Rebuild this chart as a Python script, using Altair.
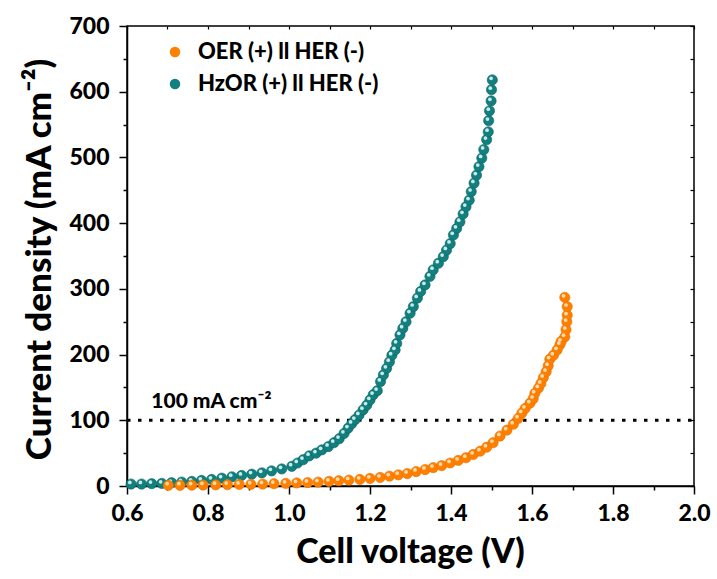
import altair as alt
import pandas as pd

# ---- data ----
teal_name = "HzOR (+) ll HER (-)"
orange_name = "OER (+) ll HER (-)"

teal_v = [0.610, 0.636, 0.661, 0.686, 0.710, 0.735, 0.760, 0.784, 0.809, 0.834,
          0.859, 0.883, 0.908, 0.933, 0.957, 0.982, 1.007, 1.021, 1.035, 1.050,
          1.067, 1.081, 1.097, 1.111, 1.124, 1.136, 1.146, 1.155, 1.163, 1.173,
          1.183, 1.192, 1.200, 1.208, 1.218, 1.226, 1.233, 1.241, 1.248, 1.254,
          1.262, 1.266, 1.274, 1.281, 1.289, 1.299, 1.307, 1.317, 1.325, 1.336,
          1.348, 1.356, 1.369, 1.381, 1.389, 1.398, 1.406, 1.414, 1.422, 1.430,
          1.437, 1.445, 1.450, 1.457, 1.463, 1.469, 1.476, 1.481, 1.488, 1.492,
          1.493, 1.495, 1.499, 1.500, 1.502]
teal_j = [3, 3, 3.5, 4, 5, 6, 7, 8.5, 10, 12,
          14, 16, 18, 20, 23, 26, 30, 35, 40, 46,
          50, 55, 60, 66, 72, 80, 88, 95, 101, 108,
          116, 123, 131, 139, 145, 159, 169, 179, 189, 199,
          207, 217, 230, 240, 250, 263, 273, 286, 296, 306,
          319, 329, 339, 349, 359, 369, 382, 392, 402, 414,
          425, 435, 448, 461, 473, 486, 499, 512, 527, 539,
          556, 571, 586, 603, 618]

orange_v = [0.702, 0.731, 0.760, 0.788, 0.819, 0.848, 0.877, 0.906, 0.935, 0.963,
            0.992, 1.019, 1.046, 1.072, 1.099, 1.123, 1.148, 1.175, 1.200, 1.225,
            1.248, 1.270, 1.292, 1.314, 1.336, 1.356, 1.377, 1.398, 1.418, 1.437,
            1.455, 1.472, 1.488, 1.504, 1.521, 1.538, 1.554, 1.566, 1.575, 1.583,
            1.595, 1.603, 1.607, 1.616, 1.622, 1.628, 1.635, 1.640, 1.644, 1.653,
            1.662, 1.669, 1.672, 1.681, 1.684, 1.686, 1.687, 1.687, 1.681]
orange_j = [1, 1, 1.2, 1.5, 1.8, 2, 2.3, 2.6, 3, 3.5,
            4, 4.6, 5.3, 6, 7, 8, 9, 10, 11.5, 13,
            15, 17, 19, 22, 25, 28, 31, 35, 39, 43,
            48, 53, 59, 66, 76, 85, 94, 103, 111, 118,
            126, 133, 141, 149, 156, 165, 174, 183, 193, 199,
            207, 215, 220, 227, 238, 250, 260, 273, 287]

x_ticks = [0.6, 0.7, 0.8, 0.9, 1.0, 1.1, 1.2, 1.3, 1.4, 1.5, 1.6, 1.7, 1.8, 1.9, 2.0]
y_ticks = [0, 50, 100, 150, 200, 250, 300, 350, 400, 450, 500, 550, 600, 650, 700]

ref_level = [100]
ref_label = ["100 mA cm\u207b\u00b2"]

# ---- tables ----
df = pd.DataFrame({
    "V": teal_v + orange_v,
    "J": teal_j + orange_j,
    "series": [teal_name] * len(teal_v) + [orange_name] * len(orange_v),
})
rule_df = pd.DataFrame({"V": [0.6], "V2": [2.0], "J": ref_level})
text_df = pd.DataFrame({"V": [0.66], "J": [118], "label": ref_label})

FONT = "Lato"
WT = 900
W, H = 567, 460

xscale = alt.Scale(domain=[0.6, 2.0], nice=False, zero=False)
yscale = alt.Scale(domain=[0, 700], nice=False, zero=False)

color_scale = alt.Scale(domain=[orange_name, teal_name], range=["#ff8000", "#11807e"])

x_axis = alt.Axis(
    values=x_ticks, format=".1f",
    labelExpr="round(datum.value*10) % 2 === 0 ? datum.label : ''",
    tickSize={"condition": {"test": "round(datum.value*10) % 2 === 0", "value": 8}, "value": 4},
    labelFont=FONT, labelFontSize=23, labelFontWeight=WT, labelColor="black",
    labelPadding=8, labelOverlap=False, labelFlush=False,
    tickColor="black", tickWidth=1.5, domainColor="black", domainWidth=1.5,
    grid=False, title="Cell voltage (V)", titleFont=FONT, titleFontSize=34,
    titleFontWeight=WT, titleColor="black", titleX=283, titleY=66,
    titleBaseline="middle", titleAlign="center",
)
y_axis = alt.Axis(
    values=y_ticks,
    labelExpr="datum.value % 100 === 0 ? datum.label : ''",
    tickSize={"condition": {"test": "datum.value % 100 === 0", "value": 8}, "value": 4},
    labelFont=FONT, labelFontSize=23, labelFontWeight=WT, labelColor="black",
    labelPadding=10, labelOverlap=False, labelFlush=False,
    tickColor="black", tickWidth=1.5, domainColor="black", domainWidth=1.5,
    grid=False, title="Current density (mA cm\u207b\u00b2)", titleFont=FONT,
    titleFontSize=35, titleFontWeight=WT, titleColor="black",
    titleX=-88, titleY=233, titleAngle=270, titleBaseline="middle", titleAlign="center",
)

legend = alt.Legend(
    title=None, orient="none", legendX=37, legendY=15,
    symbolType="circle", symbolSize=110, symbolStrokeWidth=0,
    labelFont=FONT, labelFontSize=22, labelFontWeight=WT, labelColor="black",
    labelOffset=12, rowPadding=10, padding=0, labelLimit=0,
)


def base_layer(name, stroke):
    return alt.Chart(df).transform_filter(alt.datum.series == name).mark_circle(
        size=105, opacity=1, stroke=stroke, strokeWidth=0.6
    ).encode(
        x=alt.X("V:Q", scale=xscale, axis=None),
        y=alt.Y("J:Q", scale=yscale, axis=None),
        color=alt.Color("series:N", scale=color_scale, legend=legend),
        order=alt.Order("V:Q"),
    )


def hl_layer(name, col):
    return alt.Chart(df).transform_filter(alt.datum.series == name).mark_circle(
        size=14, opacity=0.95, color=col, xOffset=-1.2, yOffset=-1.6
    ).encode(
        x=alt.X("V:Q", scale=xscale, axis=None),
        y=alt.Y("J:Q", scale=yscale, axis=None),
    )


main_axes = alt.Chart(df).mark_circle(size=0, opacity=0).encode(
    x=alt.X("V:Q", scale=xscale, axis=x_axis),
    y=alt.Y("J:Q", scale=yscale, axis=y_axis),
)

rule = alt.Chart(rule_df).mark_rule(
    color="black", strokeWidth=3, strokeDash=[3.5, 7.5]
).encode(
    x=alt.X("V:Q", scale=xscale, axis=alt.Axis(
        orient="bottom", offset=-H, labels=False, domain=False, values=x_ticks,
        tickSize=3, tickColor="black", tickWidth=1.2, grid=False, title=None)),
    x2="V2:Q",
    y=alt.Y("J:Q", scale=yscale, axis=alt.Axis(
        orient="left", offset=-W, labels=False, domain=False, values=y_ticks,
        tickSize=4, tickColor="black", tickWidth=1.2, grid=False, title=None)),
)

text = alt.Chart(text_df).mark_text(
    align="left", baseline="alphabetic", font=FONT, fontSize=21,
    fontWeight=WT, color="black"
).encode(
    x=alt.X("V:Q", scale=xscale, axis=None),
    y=alt.Y("J:Q", scale=yscale, axis=None),
    text="label:N",
)

chart = alt.layer(
    main_axes, rule, text,
    base_layer(teal_name, "#0b6563"), hl_layer(teal_name, "#d2efee"),
    base_layer(orange_name, "#e67200"), hl_layer(orange_name, "#ffe0b8"),
).resolve_axis(x="independent", y="independent").properties(
    width=W, height=H,
    padding={"left": 127, "top": 26, "right": 23, "bottom": 93},
    autosize=alt.AutoSizeParams(type="none"),
    background="white",
).configure_view(stroke="black", strokeWidth=1.5)

chart.save("out.html", embed_options={"renderer": "svg", "actions": False})
